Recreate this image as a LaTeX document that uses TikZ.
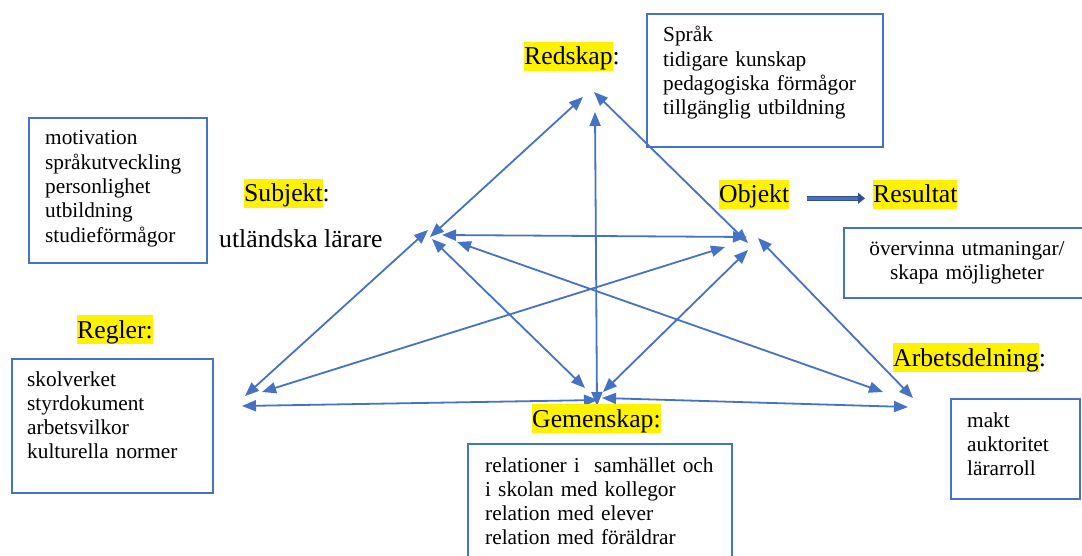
\documentclass[tikz,border=0pt]{standalone}
\usepackage{fontspec}
\setmainfont{Liberation Serif}
\usetikzlibrary{arrows.meta,positioning}
\definecolor{lineblue}{HTML}{4472C4}
\definecolor{darkblue}{HTML}{2F528F}
\newcommand{\hlword}[1]{{\setlength{\fboxsep}{0pt}\colorbox{yellow}{\rule[-0.216em]{0pt}{1.107em}#1}}}
\tikzset{
  frame/.style={draw=lineblue, line width=2pt, anchor=north west, inner sep=0pt},
  listtext/.style={anchor=base west, inner sep=0pt, align=left, text width=250pt,
    font=\fontsize{21.3}{24.3}\selectfont},
  heading/.style={anchor=base west, inner sep=0pt, font=\fontsize{25.7}{30}\selectfont},
  link/.style={lineblue, line width=1.8pt,
    {Triangle[length=14pt,width=11pt]}-{Triangle[length=14pt,width=11pt]}},
  resarrow/.style={draw=darkblue, double=lineblue, double distance=2.4pt, line width=1.1pt,
    -{Triangle[length=7pt,width=11pt]}},
}
\begin{document}
\begin{tikzpicture}[x=1pt,y=-1pt]
\useasboundingbox (0,0) rectangle (1082,556);
% boxes
\node[frame, minimum width=236pt, minimum height=133pt] (toolsbox) at (646,13) {};
\node[frame, minimum width=178pt, minimum height=145pt] (subjbox) at (28,117) {};
\node[frame, minimum width=245pt, minimum height=70pt] (resbox) at (843,227) {};
\node[frame, minimum width=201pt, minimum height=134pt] (rulebox) at (11,358) {};
\node[frame, minimum width=264pt, minimum height=125pt] (commbox) at (467,443) {};
\node[frame, minimum width=129pt, minimum height=100pt] (divbox) at (950,398) {};
% arrow ends
\coordinate (r1) at (583,97);
\coordinate (r2) at (595,112);
\coordinate (r3) at (594,92);
\coordinate (s1) at (430,237);
\coordinate (s2) at (442,235);
\coordinate (s3) at (428,230);
\coordinate (s4) at (432,239);
\coordinate (s5) at (457,242);
\coordinate (o1) at (747,237);
\coordinate (o2) at (748,243);
\coordinate (o3) at (725,247);
\coordinate (o4) at (748,250);
\coordinate (o5) at (758,238);
\coordinate (l1) at (245,396);
\coordinate (l2) at (262,392);
\coordinate (l3) at (242,406);
\coordinate (g1) at (585,388);
\coordinate (g2) at (597,406);
\coordinate (g3) at (603,392);
\coordinate (g4) at (598,400);
\coordinate (g5) at (602,398);
\coordinate (a1) at (883,392);
\coordinate (a2) at (913,398);
\coordinate (a3) at (908,407);
\draw[link] (s1) -- (r1);
\draw[link] (s2) -- (o1);
\draw[link] (l1) -- (s3);
\draw[link] (s4) -- (g1);
\draw[link] (s5) -- (a1);
\draw[link] (g2) -- (r2);
\draw[link] (r3) -- (o2);
\draw[link] (l2) -- (o3);
\draw[link] (g3) -- (o4);
\draw[link] (o5) -- (a2);
\draw[link] (l3) -- (g4);
\draw[link] (g5) -- (a3);
% labels
\node[heading] (toolslbl) at (524,65) {\hlword{Redskap}:};
\node[heading] (subjlbl) at (244,202) {\hlword{Subjekt}:};
\node[heading] (subjname) at (219,248) {utländska lärare};
\node[heading] (objlbl) at (719,203) {\hlword{Objekt}};
\node[heading] (reslbl) at (873,203) {\hlword{Resultat}};
\node[heading] (rulelbl) at (77,338) {\hlword{Regler:}};
\node[heading] (divlbl) at (893,366) {\hlword{Arbetsdelning}:};
\node[heading] (commlbl) at (532,427) {\hlword{Gemenskap:}};
\draw[resarrow, shorten <=18pt, shorten >=8pt] ([yshift=-4pt]objlbl.east) -- ([yshift=-4pt]reslbl.west);
% box texts
\node[listtext] (toolslist) at (663,42) {Språk\\tidigare kunskap\\pedagogiska förmågor\\tillgänglig utbildning};
\node[listtext] (subjlist) at (45,145) {motivation\\språkutveckling\\personlighet\\utbildning\\studieförmågor};
\node[listtext, anchor=base, align=center] (reslist) at (967,255) {övervinna utmaningar/\\skapa möjligheter};
\node[listtext] (rulelist) at (27,386) {skolverket\\styrdokument\\arbetsvilkor\\kulturella normer};
\node[listtext] (commlist) at (485,472) {relationer i\ \ samhället och\\i skolan med kollegor\\relation med elever\\relation med föräldrar};
\node[listtext] (divlist) at (967,427) {makt\\auktoritet\\lärarroll};
\end{tikzpicture}
\end{document}
